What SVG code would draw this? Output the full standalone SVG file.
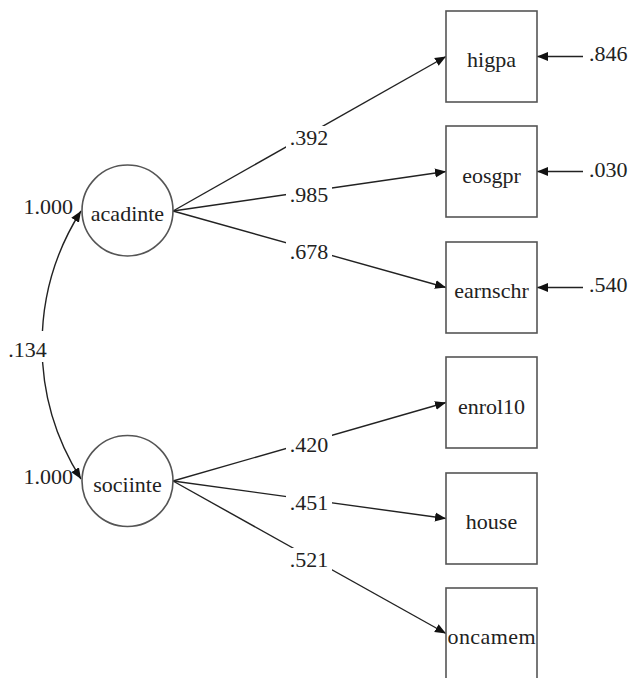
<svg xmlns="http://www.w3.org/2000/svg" width="630" height="678" viewBox="0 0 630 678" font-family="'Liberation Serif', 'Times New Roman', serif" font-size="22">
<defs>
<marker id="ah" markerUnits="userSpaceOnUse" markerWidth="12" markerHeight="10" refX="11" refY="4.5" orient="auto-start-reverse" viewBox="0 0 12 9">
<path d="M0,0 L11,4.5 L0,9 Z" fill="#111"/>
</marker>
<style>
text{font-family:'Liberation Serif','Times New Roman',serif;font-size:22px;fill:#222}
.c{text-anchor:middle}
.e{text-anchor:end}
.node{fill:#fff;stroke:#555;stroke-width:1.6}
.ln{stroke:#222;stroke-width:1.4;fill:none}
.bg{fill:#fff}
</style>
</defs>
<rect width="630" height="678" fill="#fff"/>
<g id="connectors">
<path class="ln" d="M81,211 A250 250 0 0 0 81,479" marker-start="url(#ah)" marker-end="url(#ah)"/>
<rect class="bg" x="4" y="331" width="48" height="31"/>
<text x="27.5" y="357" class="c">.134</text>
<line class="ln" x1="173" y1="211" x2="446" y2="56.5" marker-end="url(#ah)"/>
<line class="ln" x1="173" y1="211" x2="446" y2="171.5" marker-end="url(#ah)"/>
<line class="ln" x1="173" y1="211" x2="446" y2="287.5" marker-end="url(#ah)"/>
<line class="ln" x1="173" y1="481" x2="446" y2="402.5" marker-end="url(#ah)"/>
<line class="ln" x1="173" y1="481" x2="446" y2="518.5" marker-end="url(#ah)"/>
<line class="ln" x1="173" y1="481" x2="446" y2="633.5" marker-end="url(#ah)"/>
<rect class="bg" x="286" y="126" width="46" height="24"/>
<text x="309" y="145" class="c">.392</text>
<rect class="bg" x="286" y="183" width="46" height="24"/>
<text x="309" y="202" class="c">.985</text>
<rect class="bg" x="286" y="240" width="46" height="24"/>
<text x="309" y="259" class="c">.678</text>
<rect class="bg" x="286" y="433" width="46" height="24"/>
<text x="309" y="452" class="c">.420</text>
<rect class="bg" x="286" y="491" width="46" height="24"/>
<text x="309" y="510" class="c">.451</text>
<rect class="bg" x="286" y="548" width="46" height="24"/>
<text x="309" y="567" class="c">.521</text>
<line class="ln" x1="583" y1="56.5" x2="537" y2="56.5" marker-end="url(#ah)"/>
<text x="589" y="61">.846</text>
<line class="ln" x1="583" y1="171.5" x2="537" y2="171.5" marker-end="url(#ah)"/>
<text x="589" y="177">.030</text>
<line class="ln" x1="583" y1="287.5" x2="537" y2="287.5" marker-end="url(#ah)"/>
<text x="589" y="292">.540</text>
<text x="73" y="214" class="e">1.000</text>
<text x="73" y="484" class="e">1.000</text>
</g>
<g id="acadinte">
<circle class="node" cx="127.5" cy="210.5" r="45.5"/>
<text x="127.5" y="221" class="c">acadinte</text>
</g>
<g id="sociinte">
<circle class="node" cx="127.5" cy="481" r="45.5"/>
<text x="127.5" y="492" class="c">sociinte</text>
</g>
<g id="higpa">
<rect class="node" x="446" y="11" width="91" height="91"/>
<text x="491.5" y="67" class="c">higpa</text>
</g>
<g id="eosgpr">
<rect class="node" x="446" y="126" width="91" height="91"/>
<text x="491.5" y="183" class="c">eosgpr</text>
</g>
<g id="earnschr">
<rect class="node" x="446" y="242" width="91" height="91"/>
<text x="491.5" y="298" class="c">earnschr</text>
</g>
<g id="enrol10">
<rect class="node" x="446" y="357" width="91" height="91"/>
<text x="491.5" y="414" class="c">enrol10</text>
</g>
<g id="house">
<rect class="node" x="446" y="473" width="91" height="91"/>
<text x="491.5" y="529" class="c">house</text>
</g>
<g id="oncamem">
<rect class="node" x="446" y="588" width="91" height="91"/>
<text x="491.5" y="644" class="c" textLength="88">oncamem</text>
</g>
</svg>
